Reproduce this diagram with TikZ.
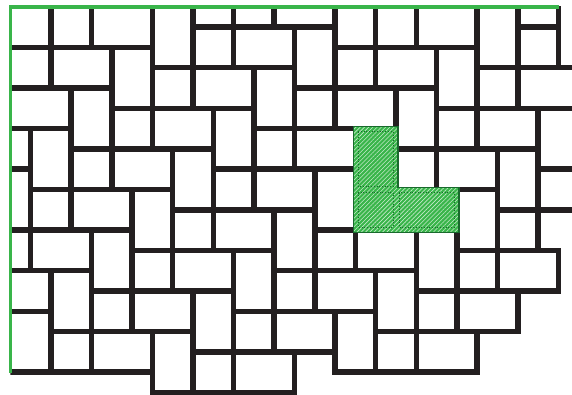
\documentclass[tikz,border=0pt]{standalone}
\usetikzlibrary{patterns.meta}
\definecolor{ink}{RGB}{35,31,32}
\definecolor{lgreen}{RGB}{57,181,74}
\definecolor{dgreen}{RGB}{25,105,45}
\begin{document}
\begin{tikzpicture}[
  tile/.style={draw=ink, line width=5.5pt, fill=white},
  edgeline/.style={draw=lgreen, line width=3.4pt},
  hl/.style={fill=lgreen},
  hlhatch/.style={pattern={Lines[angle=45,distance=3pt,line width=0.6pt]}, pattern color=white!70!lgreen},
  hlborder/.style={draw=dgreen, line width=1.2pt},
  hlinner/.style={draw=dgreen, line width=0.7pt, dotted}
]
\path[use as bounding box] (0pt,0pt) rectangle (572pt,-394pt);
\begin{scope}[shift={(10.3pt,-6.8pt)}, x=20.3pt, y=-20.3pt]
  \begin{scope}
    \clip (0,0) rectangle (30,21);
    \foreach \a/\b/\c/\d in {
      -1/-1/2/2, 2/-1/4/2, 4/-1/7/2, 7/-1/9/3, 9/-1/11/1, 11/-1/13/1, 13/-1/16/1,
      16/-1/18/2, 18/-1/20/2, 20/-1/23/2, 23/-1/25/3, 25/-1/27/1,
      9/1/11/3, 11/1/14/3, 14/1/16/4, 25/1/27/3,
      -1/2/2/4, 2/2/5/4, 5/2/7/5, 16/2/18/4, 18/2/21/4, 21/2/23/5,
      7/3/9/5, 9/3/12/5, 12/3/14/6, 23/3/25/5, 25/3/28/5,
      -1/4/3/6, 3/4/5/7, 14/4/16/6, 16/4/19/6, 19/4/21/7,
      5/5/7/7, 7/5/10/7, 10/5/12/8, 21/5/23/7, 23/5/26/7, 26/5/28/8,
      -1/6/1/8, 1/6/3/9, 12/6/14/8, 14/6/17/8,
      3/7/5/9, 5/7/8/9, 8/7/10/10, 19/7/21/9, 21/7/24/9, 24/7/26/10,
      -1/8/1/11, 10/8/12/10, 12/8/15/10, 15/8/17/11, 26/8/28/10,
      1/9/3/11, 3/9/6/11, 6/9/8/12, 22/9/24/12,
      8/10/10/12, 10/10/13/12, 13/10/15/13, 24/10/26/12,
      -1/11/1/13, 1/11/4/13, 4/11/6/14, 15/11/17/13, 17/11/20/13, 20/11/22/14,
      6/12/8/14, 8/12/11/14, 11/12/13/15, 22/12/24/14, 24/12/27/14,
      -1/13/2/15, 2/13/4/16, 13/13/15/15, 15/13/18/15, 18/13/20/16,
      4/14/6/16, 6/14/9/16, 9/14/11/17, 20/14/22/16, 22/14/25/16,
      -1/15/2/18, 11/15/13/17, 13/15/16/17, 16/15/18/18,
      2/16/4/18, 4/16/7/18, 7/16/9/19, 18/16/20/18, 20/16/23/18,
      9/17/11/19, 11/17/14/19}
      \draw[tile] (\a,\b) rectangle (\c,\d);
  \end{scope}
  % highlighted L-shaped group
  \path[hl] (16.9,5.9) -- (19.1,5.9) -- (19.1,8.9) -- (22.1,8.9) -- (22.1,11.1) -- (16.9,11.1) -- cycle;
  \path[hlhatch] (16.9,5.9) -- (19.1,5.9) -- (19.1,8.9) -- (22.1,8.9) -- (22.1,11.1) -- (16.9,11.1) -- cycle;
  \draw[hlinner] (17.15,6.15) rectangle (18.85,8.85);
  \draw[hlinner] (17.15,9.15) rectangle (18.85,10.85);
  \draw[hlinner] (19.15,9.15) rectangle (21.85,10.85);
  \draw[hlborder] (16.9,5.9) -- (19.1,5.9) -- (19.1,8.9) -- (22.1,8.9) -- (22.1,11.1) -- (16.9,11.1) -- cycle;
  % green boundary lines
  \draw[edgeline] (0,18.02) -- (0,0) -- (27.05,0);
\end{scope}
\end{tikzpicture}
\end{document}
